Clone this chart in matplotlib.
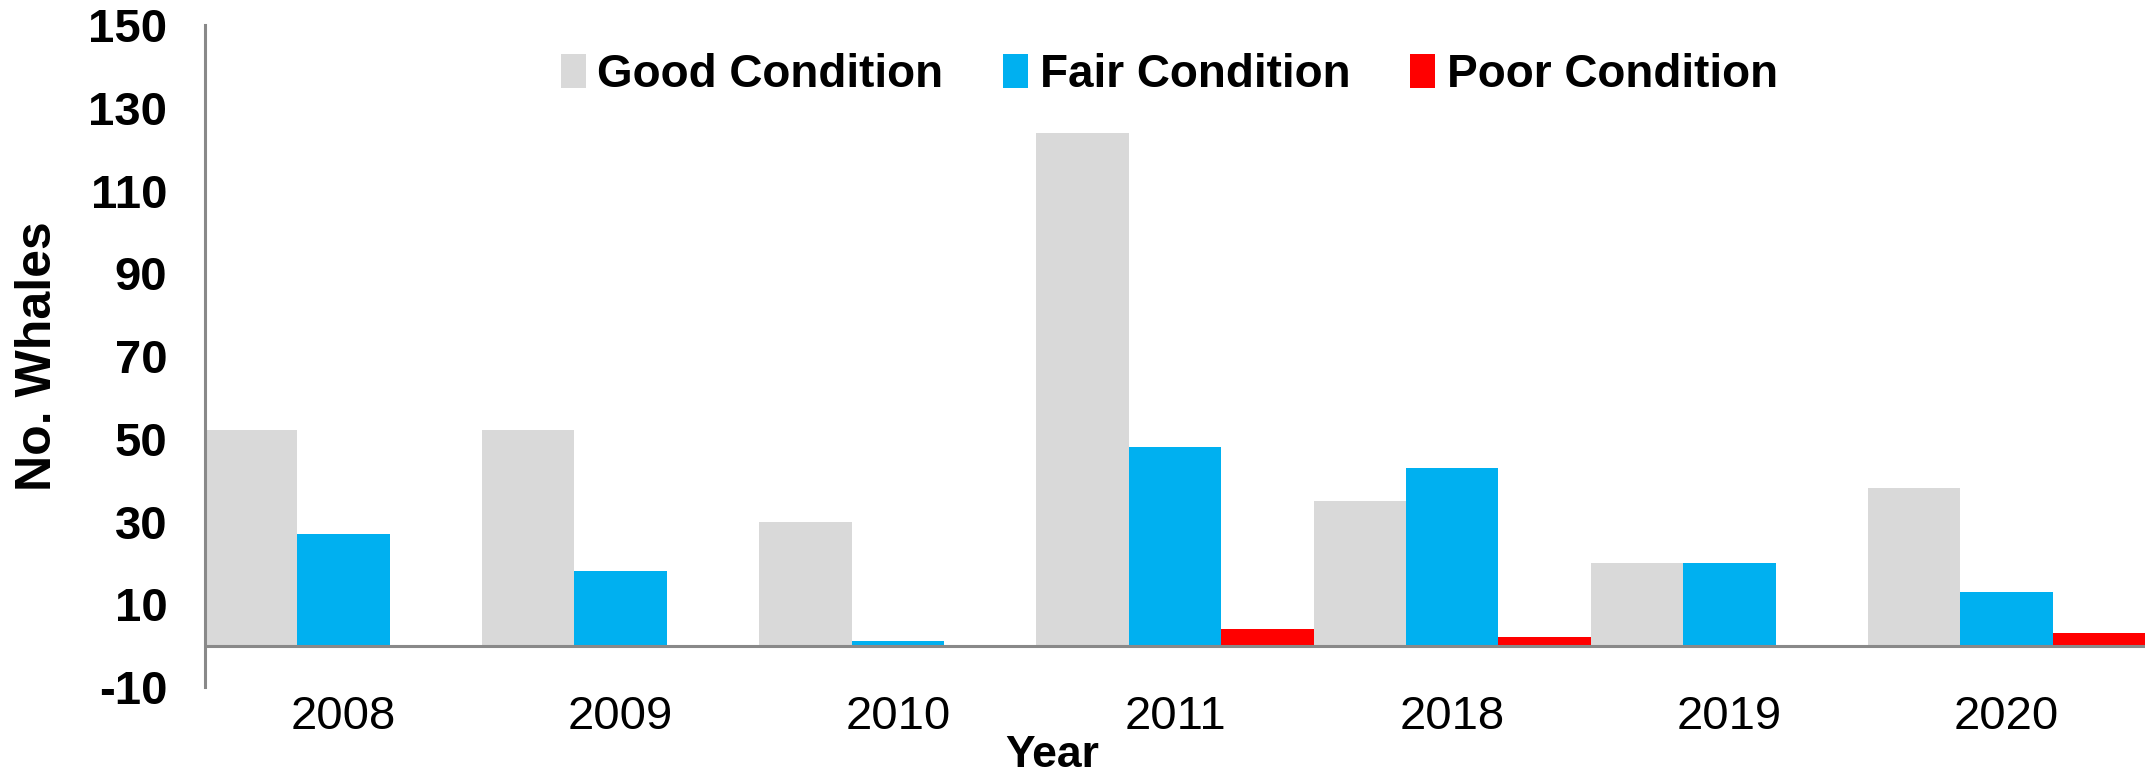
import numpy as np
import matplotlib
matplotlib.use('Agg')
import matplotlib.pyplot as plt

years = ['2008', '2009', '2010', '2011', '2018', '2019', '2020']
good = [52, 52, 30, 124, 35, 20, 38]
fair = [27, 18, 1, 48, 43, 20, 13]
poor = [0, 0, 0, 4, 2, 0, 3]
yticks = list(range(-10, 151, 20))

plt.rcParams['font.family'] = ['Liberation Sans', 'DejaVu Sans']

fig = plt.figure(figsize=(21.56, 7.76), dpi=100)
ax = fig.add_axes([0.095, 0.1147, 0.9, 0.853])

x = np.arange(len(years))
w = 1 / 3
ax.bar(x - w, good, w, color='#D9D9D9', label='Good Condition')
ax.bar(x, fair, w, color='#00B0F0', label='Fair Condition')
ax.bar(x + w, poor, w, color='#FF0000', label='Poor Condition')

ax.axhline(0, color='#898989', lw=2.2, zorder=3)
ax.set_xlim(-0.5, len(years) - 0.5)
ax.set_ylim(-10, 150)
ax.set_yticks(yticks)
ax.set_yticklabels([str(v) for v in yticks], fontsize=34, fontweight='bold')
ax.set_xticks(x)
ax.set_xticklabels(years, fontsize=34)
ax.tick_params(axis='y', length=0, pad=27)
ax.tick_params(axis='x', length=0, pad=6)

for s in ['top', 'right', 'bottom']:
    ax.spines[s].set_visible(False)
ax.spines['left'].set_color('#898989')
ax.spines['left'].set_linewidth(2.2)

ax.set_ylabel('No. Whales', fontsize=36, fontweight='bold')
ax.yaxis.set_label_coords(-0.074, 0.5)
ax.set_xlabel('Year', fontsize=32, fontweight='bold')
ax.xaxis.set_label_coords(0.4366, -0.072)

ax.legend(loc='upper center', bbox_to_anchor=(0.497, 1.02), ncol=3, frameon=False,
          prop={'size': 33, 'weight': 'bold'}, handlelength=0.55, handleheight=0.75,
          handletextpad=0.25, columnspacing=1.3)

fig.savefig('out.png', dpi=100)
